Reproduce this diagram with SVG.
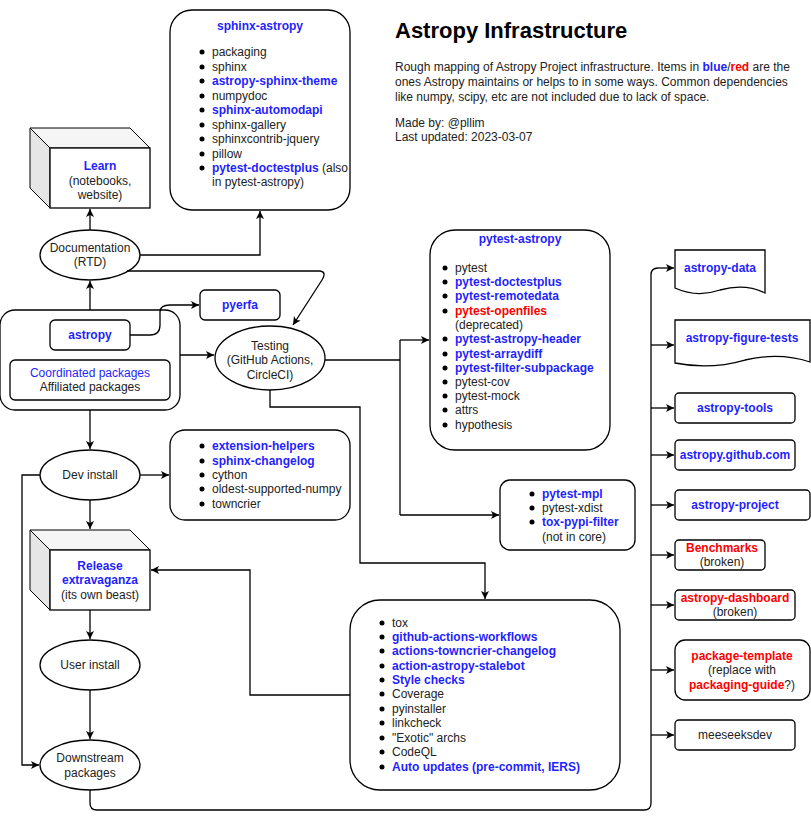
<svg xmlns="http://www.w3.org/2000/svg" width="811" height="819" viewBox="0 0 811 819">
<defs>
<marker id="ar" markerWidth="10" markerHeight="10" refX="9" refY="5" orient="auto" markerUnits="userSpaceOnUse"><path d="M1,1 L9,5 L1,9 L3,5 Z" fill="#000"/></marker>
<style>
text{font-family:"Liberation Sans",Arial,sans-serif;font-size:12px;fill:#222}
.b{fill:#1f1fff;font-weight:bold}
.r{fill:#f00;font-weight:bold}
.c{text-anchor:middle}
.s{fill:#fff;stroke:#000;stroke-width:1.3}
.l{fill:none;stroke:#000;stroke-width:1.3;marker-end:url(#ar)}
.n{fill:none;stroke:#000;stroke-width:1.3}
.d{fill:#000;stroke:none}
</style>
</defs>
<rect width="811" height="819" fill="#fff"/>
<g id="title">
<text x="395" y="38" style="font-size:22px;font-weight:bold;fill:#000">Astropy Infrastructure</text>
<text x="395" y="71">Rough mapping of Astropy Project infrastructure. Items in <tspan class="b">blue</tspan>/<tspan class="r">red</tspan> are the</text>
<text x="395" y="86">ones Astropy maintains or helps to in some ways. Common dependencies</text>
<text x="395" y="101">like numpy, scipy, etc are not included due to lack of space.</text>
<text x="395" y="127">Made by: @pllim</text>
<text x="395" y="141">Last updated: 2023-03-07</text>
</g>
<g id="learn">
<path d="M30,128 H130 L150,148 H50 Z" fill="#f5f5f5" stroke="#000"/>
<path d="M30,128 L50,148 V208 L30,188 Z" fill="#e6e6e6" stroke="#000"/>
<rect class="s" x="50" y="148" width="100" height="60"/>
<text class="c b" x="100" y="170">Learn</text>
<text class="c" x="100" y="185">(notebooks,</text>
<text class="c" x="100" y="199">website)</text>
</g>
<g id="sphinx-astropy">
<rect class="s" x="170" y="10" width="180" height="200" rx="22"/>
<text class="c b" x="260" y="30">sphinx-astropy</text>
<circle class="d" cx="202" cy="52" r="2.5"/><circle class="d" cx="202" cy="67" r="2.5"/><circle class="d" cx="202" cy="81" r="2.5"/><circle class="d" cx="202" cy="96" r="2.5"/><circle class="d" cx="202" cy="110" r="2.5"/><circle class="d" cx="202" cy="125" r="2.5"/><circle class="d" cx="202" cy="139" r="2.5"/><circle class="d" cx="202" cy="154" r="2.5"/><circle class="d" cx="202" cy="168" r="2.5"/>
<text x="212" y="56">packaging</text>
<text x="212" y="71">sphinx</text>
<text x="212" y="85" class="b">astropy-sphinx-theme</text>
<text x="212" y="100">numpydoc</text>
<text x="212" y="114" class="b">sphinx-automodapi</text>
<text x="212" y="129">sphinx-gallery</text>
<text x="212" y="143">sphinxcontrib-jquery</text>
<text x="212" y="158">pillow</text>
<text x="212" y="172"><tspan class="b">pytest-doctestplus</tspan> (also</text>
<text x="212" y="186">in pytest-astropy)</text>
</g>
<g id="documentation">
<ellipse class="s" cx="90" cy="255" rx="50" ry="25"/>
<text class="c" x="90" y="252">Documentation</text>
<text class="c" x="90" y="266">(RTD)</text>
</g>
<g id="astropy-group">
<rect class="s" x="0" y="310" width="180" height="100" rx="15"/>
<rect class="s" x="50" y="320" width="80" height="30" rx="5"/>
<text class="c b" x="90" y="339">astropy</text>
<rect class="s" x="10" y="360" width="160" height="40" rx="5"/>
<text class="c" x="90" y="377" style="fill:#1f1fff">Coordinated packages</text>
<text class="c" x="90" y="391">Affiliated packages</text>
</g>
<g id="pyerfa">
<rect class="s" x="200" y="290" width="80" height="30" rx="5"/>
<text class="c b" x="240" y="309">pyerfa</text>
</g>
<g id="testing">
<ellipse class="s" cx="270" cy="358" rx="55" ry="32"/>
<text class="c" x="270" y="350">Testing</text>
<text class="c" x="270" y="364">(GitHub Actions,</text>
<text class="c" x="270" y="379">CircleCI)</text>
</g>
<g id="pytest-astropy">
<rect class="s" x="430" y="230" width="180" height="220" rx="25"/>
<text class="c b" x="520" y="243">pytest-astropy</text>
<circle class="d" cx="445" cy="268" r="2.5"/><circle class="d" cx="445" cy="282" r="2.5"/><circle class="d" cx="445" cy="296" r="2.5"/><circle class="d" cx="445" cy="311" r="2.5"/><circle class="d" cx="445" cy="339" r="2.5"/><circle class="d" cx="445" cy="354" r="2.5"/><circle class="d" cx="445" cy="368" r="2.5"/><circle class="d" cx="445" cy="382" r="2.5"/><circle class="d" cx="445" cy="396" r="2.5"/><circle class="d" cx="445" cy="410" r="2.5"/><circle class="d" cx="445" cy="425" r="2.5"/>
<text x="455" y="272">pytest</text>
<text x="455" y="286" class="b">pytest-doctestplus</text>
<text x="455" y="300" class="b">pytest-remotedata</text>
<text x="455" y="315" class="r">pytest-openfiles</text>
<text x="455" y="329">(deprecated)</text>
<text x="455" y="343" class="b">pytest-astropy-header</text>
<text x="455" y="358" class="b">pytest-arraydiff</text>
<text x="455" y="372" class="b">pytest-filter-subpackage</text>
<text x="455" y="386">pytest-cov</text>
<text x="455" y="400">pytest-mock</text>
<text x="455" y="414">attrs</text>
<text x="455" y="429">hypothesis</text>
</g>
<g id="pytest-mpl">
<rect class="s" x="500" y="480" width="135" height="70" rx="10"/>
<circle class="d" cx="532" cy="494" r="2.5"/><circle class="d" cx="532" cy="508" r="2.5"/><circle class="d" cx="532" cy="522" r="2.5"/>
<text x="542" y="498" class="b">pytest-mpl</text>
<text x="542" y="512">pytest-xdist</text>
<text x="542" y="526" class="b">tox-pypi-filter</text>
<text x="542" y="541">(not in core)</text>
</g>
<g id="dev-install">
<ellipse class="s" cx="90" cy="475" rx="50" ry="25"/>
<text class="c" x="90" y="479">Dev install</text>
</g>
<g id="extension-helpers">
<rect class="s" x="170" y="430" width="180" height="90" rx="15"/>
<circle class="d" cx="202" cy="446" r="2.5"/><circle class="d" cx="202" cy="461" r="2.5"/><circle class="d" cx="202" cy="475" r="2.5"/><circle class="d" cx="202" cy="489" r="2.5"/><circle class="d" cx="202" cy="504" r="2.5"/>
<text x="212" y="450" class="b">extension-helpers</text>
<text x="212" y="465" class="b">sphinx-changelog</text>
<text x="212" y="479">cython</text>
<text x="212" y="493">oldest-supported-numpy</text>
<text x="212" y="508">towncrier</text>
</g>
<g id="release">
<path d="M30,530 H130 L150,550 H50 Z" fill="#f5f5f5" stroke="#000"/>
<path d="M30,530 L50,550 V610 L30,590 Z" fill="#e6e6e6" stroke="#000"/>
<rect class="s" x="50" y="550" width="100" height="60"/>
<text class="c b" x="100" y="570">Release</text>
<text class="c b" x="100" y="584">extravaganza</text>
<text class="c" x="100" y="599">(its own beast)</text>
</g>
<g id="user-install">
<ellipse class="s" cx="90" cy="665" rx="50" ry="25"/>
<text class="c" x="90" y="669">User install</text>
</g>
<g id="downstream">
<ellipse class="s" cx="90" cy="765" rx="50" ry="25"/>
<text class="c" x="90" y="762">Downstream</text>
<text class="c" x="90" y="777">packages</text>
</g>
<g id="tox">
<rect class="s" x="350" y="600" width="270" height="190" rx="30"/>
<circle class="d" cx="382" cy="623" r="2.5"/><circle class="d" cx="382" cy="637" r="2.5"/><circle class="d" cx="382" cy="651" r="2.5"/><circle class="d" cx="382" cy="666" r="2.5"/><circle class="d" cx="382" cy="680" r="2.5"/><circle class="d" cx="382" cy="694" r="2.5"/><circle class="d" cx="382" cy="709" r="2.5"/><circle class="d" cx="382" cy="723" r="2.5"/><circle class="d" cx="382" cy="738" r="2.5"/><circle class="d" cx="382" cy="752" r="2.5"/><circle class="d" cx="382" cy="767" r="2.5"/>
<text x="392" y="627">tox</text>
<text x="392" y="641" class="b">github-actions-workflows</text>
<text x="392" y="655" class="b">actions-towncrier-changelog</text>
<text x="392" y="670" class="b">action-astropy-stalebot</text>
<text x="392" y="684" class="b">Style checks</text>
<text x="392" y="698">Coverage</text>
<text x="392" y="713">pyinstaller</text>
<text x="392" y="727">linkcheck</text>
<text x="392" y="742">"Exotic" archs</text>
<text x="392" y="756">CodeQL</text>
<text x="392" y="771" class="b">Auto updates (pre-commit, IERS)</text>
</g>
<g id="astropy-data">
<path class="s" d="M675,250 H765 V293 Q745,283 720,290 Q697,298 675,288 Z"/>
<text class="c b" x="720" y="272">astropy-data</text>
</g>
<g id="astropy-figure-tests">
<path class="s" d="M675,320 H810 V362 Q780,352 745,360 Q710,370 675,363 Z"/>
<text class="c b" x="742" y="342">astropy-figure-tests</text>
</g>
<g id="astropy-tools"><rect class="s" x="675" y="393" width="120" height="30" rx="4"/><text class="c b" x="735" y="412">astropy-tools</text></g>
<g id="astropy-github"><rect class="s" x="675" y="440" width="120" height="30" rx="4"/><text class="c b" x="735" y="459">astropy.github.com</text></g>
<g id="astropy-project"><rect class="s" x="675" y="490" width="135" height="30" rx="4"/><text class="c b" x="735" y="509">astropy-project</text></g>
<g id="benchmarks"><rect class="s" x="675" y="540" width="90" height="30" rx="4"/><text class="c r" x="722" y="552">Benchmarks</text><text class="c" x="722" y="566">(broken)</text></g>
<g id="dashboard"><rect class="s" x="675" y="590" width="120" height="30" rx="4"/><text class="c r" x="735" y="602">astropy-dashboard</text><text class="c" x="735" y="616">(broken)</text></g>
<g id="package-template"><rect class="s" x="675" y="640" width="135" height="60" rx="10"/><text class="c r" x="742" y="660">package-template</text><text class="c" x="742" y="674">(replace with</text><text class="c" x="742" y="689"><tspan class="r">packaging-guide</tspan>?)</text></g>
<g id="meeseeksdev"><rect class="s" x="675" y="720" width="120" height="30" rx="4"/><text class="c" x="735" y="739">meeseeksdev</text></g>
<g id="connectors">
<path class="l" d="M90,310 V281"/>
<path class="l" d="M90,230 V209"/>
<path class="l" d="M140,255 H260 V211"/>
<path class="l" d="M127,271 H320 Q327,272 322,280 L293,325"/>
<path class="l" d="M130,335 H150 Q160,335 160,325 V312 Q160,305 170,305 H199"/>
<path class="l" d="M180,355 H214"/>
<path class="n" d="M325,360 H400"/>
<path class="n" d="M400,340 V515"/>
<path class="l" d="M400,340 H429"/>
<path class="l" d="M400,515 H499"/>
<path class="l" d="M270,390 V407 H360 V563 H485 V599"/>
<path class="l" d="M90,410 V449"/>
<path class="l" d="M140,475 H169"/>
<path class="l" d="M90,500 V529"/>
<path class="l" d="M40,475 H22 V765 H39"/>
<path class="l" d="M90,610 V639"/>
<path class="l" d="M90,690 V739"/>
<path class="l" d="M350,695 H250 V570 H151"/>
<path class="n" d="M90,790 V803 Q90,810 97,810 H644 Q651,810 651,803 V275 Q651,268 658,268"/>
<path class="l" d="M658,268 H674"/>
<path class="l" d="M651,345 H674"/>
<path class="l" d="M651,408 H674"/>
<path class="l" d="M651,455 H674"/>
<path class="l" d="M651,505 H674"/>
<path class="l" d="M651,555 H674"/>
<path class="l" d="M651,605 H674"/>
<path class="l" d="M651,670 H674"/>
<path class="l" d="M651,735 H674"/>
</g>
</svg>
